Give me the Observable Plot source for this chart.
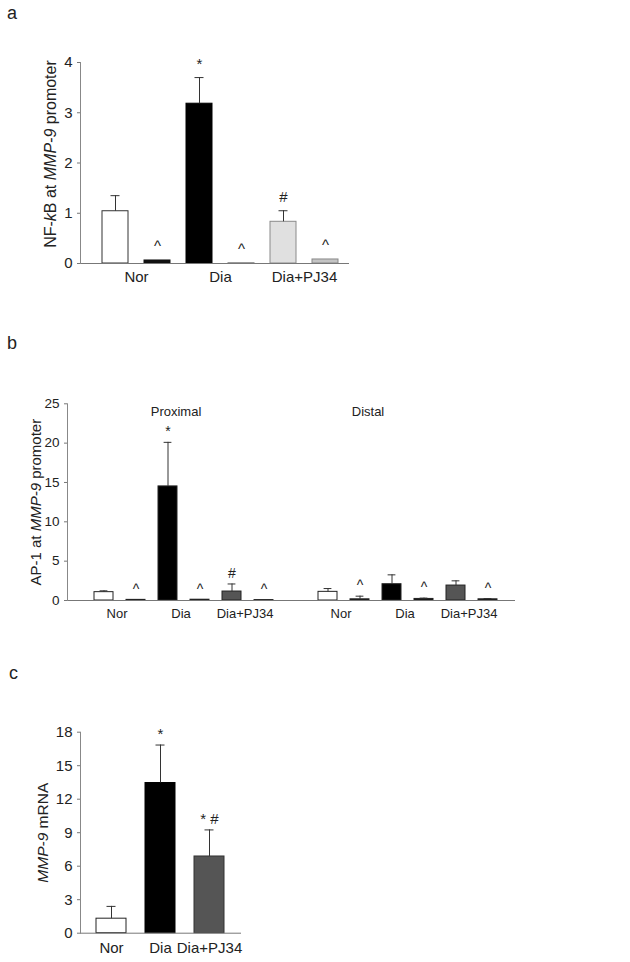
<!DOCTYPE html>
<html><head><meta charset="utf-8">
<script src="https://cdn.jsdelivr.net/npm/d3@7"></script>
<script src="https://cdn.jsdelivr.net/npm/@observablehq/plot@0.6"></script>
<style>
body{margin:0;background:#fff;font-family:'Liberation Sans',Arial,sans-serif;}
#wrap{position:relative;width:630px;height:962px;overflow:hidden;background:#fff}
.panel{position:absolute;left:0}
.letter{position:absolute;font-size:18px;color:#222;line-height:1}
</style></head><body><div id="wrap"></div>
<script>
// ---------- Panel a: NF-kB at MMP-9 promoter ----------
const aSlots = ["Nor", "Nor-IgG", "Dia", "Dia-IgG", "Dia+PJ34", "Dia+PJ34-IgG"];
const aValues = [1.04, 0.06, 3.18, 0.01, 0.83, 0.08];
const aUpper = [1.35, null, 3.70, null, 1.05, null];
const aSig = ["", "^", "*", "^", "#", "^"];
const aGroups = ["Nor", "Dia", "Dia+PJ34"];
const aGroupSlots = ["Nor", "Dia", "Dia+PJ34"];
const aTicks = [0, 1, 2, 3, 4];

// ---------- Panel b: AP-1 at MMP-9 promoter ----------
const bSlots = ["P-Nor", "P-Nor-IgG", "P-Dia", "P-Dia-IgG", "P-PJ", "P-PJ-IgG", "gap",
                "D-Nor", "D-Nor-IgG", "D-Dia", "D-Dia-IgG", "D-PJ", "D-PJ-IgG"];
const bValues = [1.06, 0.08, 14.5, 0.10, 1.14, 0.05, null, 1.10, 0.15, 2.07, 0.20, 1.90, 0.15];
const bUpper = [1.23, null, 20.1, null, 2.10, null, null, 1.52, 0.55, 3.26, 0.30, 2.50, 0.25];
const bSig = ["", "^", "*", "^", "#", "^", "", "", "^", "", "^", "", "^"];
const bGroups = ["Nor", "Dia", "Dia+PJ34", "Nor", "Dia", "Dia+PJ34"];
const bGroupSlots = ["P-Nor", "P-Dia", "P-PJ", "D-Nor", "D-Dia", "D-PJ"];
const bRegions = ["Proximal", "Distal"];
const bRegionSlots = ["P-Dia", "D-Nor-IgG"];
const bTicks = [0, 5, 10, 15, 20, 25];

// ---------- Panel c: MMP-9 mRNA ----------
const cSlots = ["Nor", "Dia", "Dia+PJ34"];
const cValues = [1.3, 13.45, 6.87];
const cUpper = [2.4, 16.85, 9.25];
const cSig = ["", "*", "* #"];
const cGroups = ["Nor", "Dia", "Dia+PJ34"];
const cTicks = [0, 3, 6, 9, 12, 15, 18];

// ---------- styles ----------
const aFill = {"Nor":"#ffffff","Nor-IgG":"#111111","Dia":"#000000","Dia-IgG":"#aaaaaa","Dia+PJ34":"#e0e0e0","Dia+PJ34-IgG":"#c4c4c4"};
const aStroke = {"Nor":"#333333","Nor-IgG":"#111111","Dia":"#000000","Dia-IgG":"#999999","Dia+PJ34":"#8a8a8a","Dia+PJ34-IgG":"#888888"};
const bFill = {"P-Nor":"#ffffff","P-Nor-IgG":"#111111","P-Dia":"#000000","P-Dia-IgG":"#111111","P-PJ":"#555555","P-PJ-IgG":"#111111",
               "D-Nor":"#ffffff","D-Nor-IgG":"#111111","D-Dia":"#000000","D-Dia-IgG":"#111111","D-PJ":"#555555","D-PJ-IgG":"#111111"};
const bStroke = Object.fromEntries(Object.keys(bFill).map(k => [k, "#222222"]));
const cFill = {"Nor":"#ffffff","Dia":"#000000","Dia+PJ34":"#555555"};
const cStroke = {"Nor":"#222222","Dia":"#000000","Dia+PJ34":"#333333"};

const FONT = "'Liberation Sans', Arial, sans-serif";

function rows(slots, values, upper, sig) {
  return slots.map((slot, i) => ({slot, value: values[i], upper: upper[i], sig: sig[i]}));
}

function italicize(svg, label, parts) {
  const t = Array.from(svg.querySelectorAll("text")).find(e => e.textContent === label);
  if (!t) return;
  while (t.firstChild) t.removeChild(t.firstChild);
  for (const [s, it] of parts) {
    const ts = document.createElementNS("http://www.w3.org/2000/svg", "tspan");
    ts.textContent = s;
    if (it) { ts.setAttribute("font-style", "italic"); ts.style.fontStyle = "italic"; }
    t.appendChild(ts);
  }
}

function panel(cfg) {
  const data = rows(cfg.slots, cfg.values, cfg.upper, cfg.sig);
  const bars = data.filter(d => d.value != null);
  const errs = data.filter(d => d.upper != null);
  const sigs = data.filter(d => d.sig);
  const groupRows = cfg.groups.map((label, i) => ({label, slot: cfg.groupSlots[i]}));
  const marks = [
    Plot.barY(bars, {x: "slot", y: "value", fill: d => cfg.fill[d.slot], stroke: d => cfg.stroke[d.slot], strokeWidth: 1}),
    Plot.ruleX(errs, {x: "slot", y1: "value", y2: "upper", stroke: "#333", strokeWidth: 1}),
    Plot.tickY(errs, {x: "slot", y: "upper", stroke: "#333", strokeWidth: 1, insetLeft: cfg.capInset, insetRight: cfg.capInset}),
    Plot.text(sigs, {x: "slot", y: d => d.upper ?? d.value, text: "sig", lineAnchor: "bottom", dy: cfg.sigDy, fontSize: cfg.sigFont, fill: "#222"}),
    Plot.ruleY([0], {stroke: "#777"}),
    Plot.frame({anchor: "left", stroke: "#888"}),
    Plot.axisY({ticks: cfg.ticks, tickFormat: d => String(d), tickSize: 3, tickPadding: 5, fontSize: cfg.tickFont, label: null, stroke: "#777"}),
    Plot.text(groupRows, {x: "slot", y: () => 0, text: "label", dx: cfg.groupDx, dy: cfg.groupDy, lineAnchor: "middle", fontSize: cfg.labelFont, fill: "#222"}),
    Plot.text([cfg.label], {x: null, y: null, text: d => d, frameAnchor: "left", textAnchor: "middle", rotate: -90, dx: cfg.ylabDx, dy: cfg.ylabDy, lineAnchor: "middle", fontSize: cfg.ylabFont, fill: "#222", ariaLabel: "ylabel"})
  ];
  if (cfg.extra) marks.push(...cfg.extra);
  const svg = Plot.plot({
    width: 630, height: cfg.height,
    marginTop: cfg.mt, marginBottom: cfg.mb, marginLeft: cfg.ml, marginRight: cfg.mr,
    style: {fontFamily: FONT, fontSize: "15px", color: "#222", background: "white", overflow: "visible"},
    x: {domain: cfg.slots, range: cfg.xRange, paddingInner: cfg.pad, paddingOuter: 0, axis: null},
    y: {domain: cfg.yDomain, axis: null},
    color: {type: "identity"},
    marks
  });
  italicize(svg, cfg.label, cfg.labelParts);
  const div = document.createElement("div");
  div.className = "panel";
  div.style.top = cfg.top + "px";
  div.appendChild(svg);
  document.getElementById("wrap").appendChild(div);
  const L = document.createElement("div");
  L.className = "letter";
  L.textContent = cfg.letter;
  L.style.left = cfg.letterPos[0] + "px";
  L.style.top = cfg.letterPos[1] + "px";
  document.getElementById("wrap").appendChild(L);
}

panel({
  top: 0, height: 300, mt: 62, mb: 37, ml: 80, mr: 281,
  slots: aSlots, values: aValues, upper: aUpper, sig: aSig,
  groups: aGroups, groupSlots: aGroupSlots, groupDx: 21, groupDy: 14,
  fill: aFill, stroke: aStroke, xRange: [100, 339], pad: 0.39, yDomain: [0, 4], ticks: aTicks,
  capInset: 8.5, sigDy: -9, sigFont: 15, tickFont: 15, labelFont: 15,
  label: "NF-kB at MMP-9 promoter",
  labelParts: [["NF-", false], ["k", true], ["B at ", false], ["MMP-9", true], [" promoter", false]],
  ylabDx: -30, ylabDy: -9, ylabFont: 16,
  letter: "a", letterPos: [7, 4]
});

panel({
  top: 300, height: 330, mt: 103.3, mb: 30, ml: 67, mr: 115,
  slots: bSlots, values: bValues, upper: bUpper, sig: bSig,
  groups: bGroups, groupSlots: bGroupSlots, groupDx: 13, groupDy: 13,
  fill: bFill, stroke: bStroke, xRange: [92.75, 498.25], pad: 0.4, yDomain: [0, 25], ticks: bTicks,
  capInset: 5.6, sigDy: -6, sigFont: 14, tickFont: 13.5, labelFont: 13,
  label: "AP-1 at MMP-9 promoter",
  labelParts: [["AP-1 at ", false], ["MMP-9", true], [" promoter", false]],
  ylabDx: -31, ylabDy: 0, ylabFont: 15,
  letter: "b", letterPos: [7, 334],
  extra: [
    Plot.text(bRegions.map((label, i) => ({label, slot: bRegionSlots[i]})),
      {x: "slot", text: "label", frameAnchor: "top", dx: 8, dy: 8, lineAnchor: "middle", fontSize: 13, fill: "#222"})
  ]
});

panel({
  top: 630, height: 332, mt: 101.7, mb: 29.3, ml: 80, mr: 389,
  slots: cSlots, values: cValues, upper: cUpper, sig: cSig,
  groups: cGroups, groupSlots: cSlots, groupDx: 0, groupDy: 15,
  fill: cFill, stroke: cStroke, xRange: [96, 224], pad: 0.388, yDomain: [0, 18], ticks: cTicks,
  capInset: 10.5, sigDy: -6, sigFont: 15, tickFont: 15, labelFont: 15,
  label: "MMP-9 mRNA",
  labelParts: [["MMP-9", true], [" mRNA", false]],
  ylabDx: -37, ylabDy: 0, ylabFont: 15.5,
  letter: "c", letterPos: [9, 664]
});
</script></body></html>
